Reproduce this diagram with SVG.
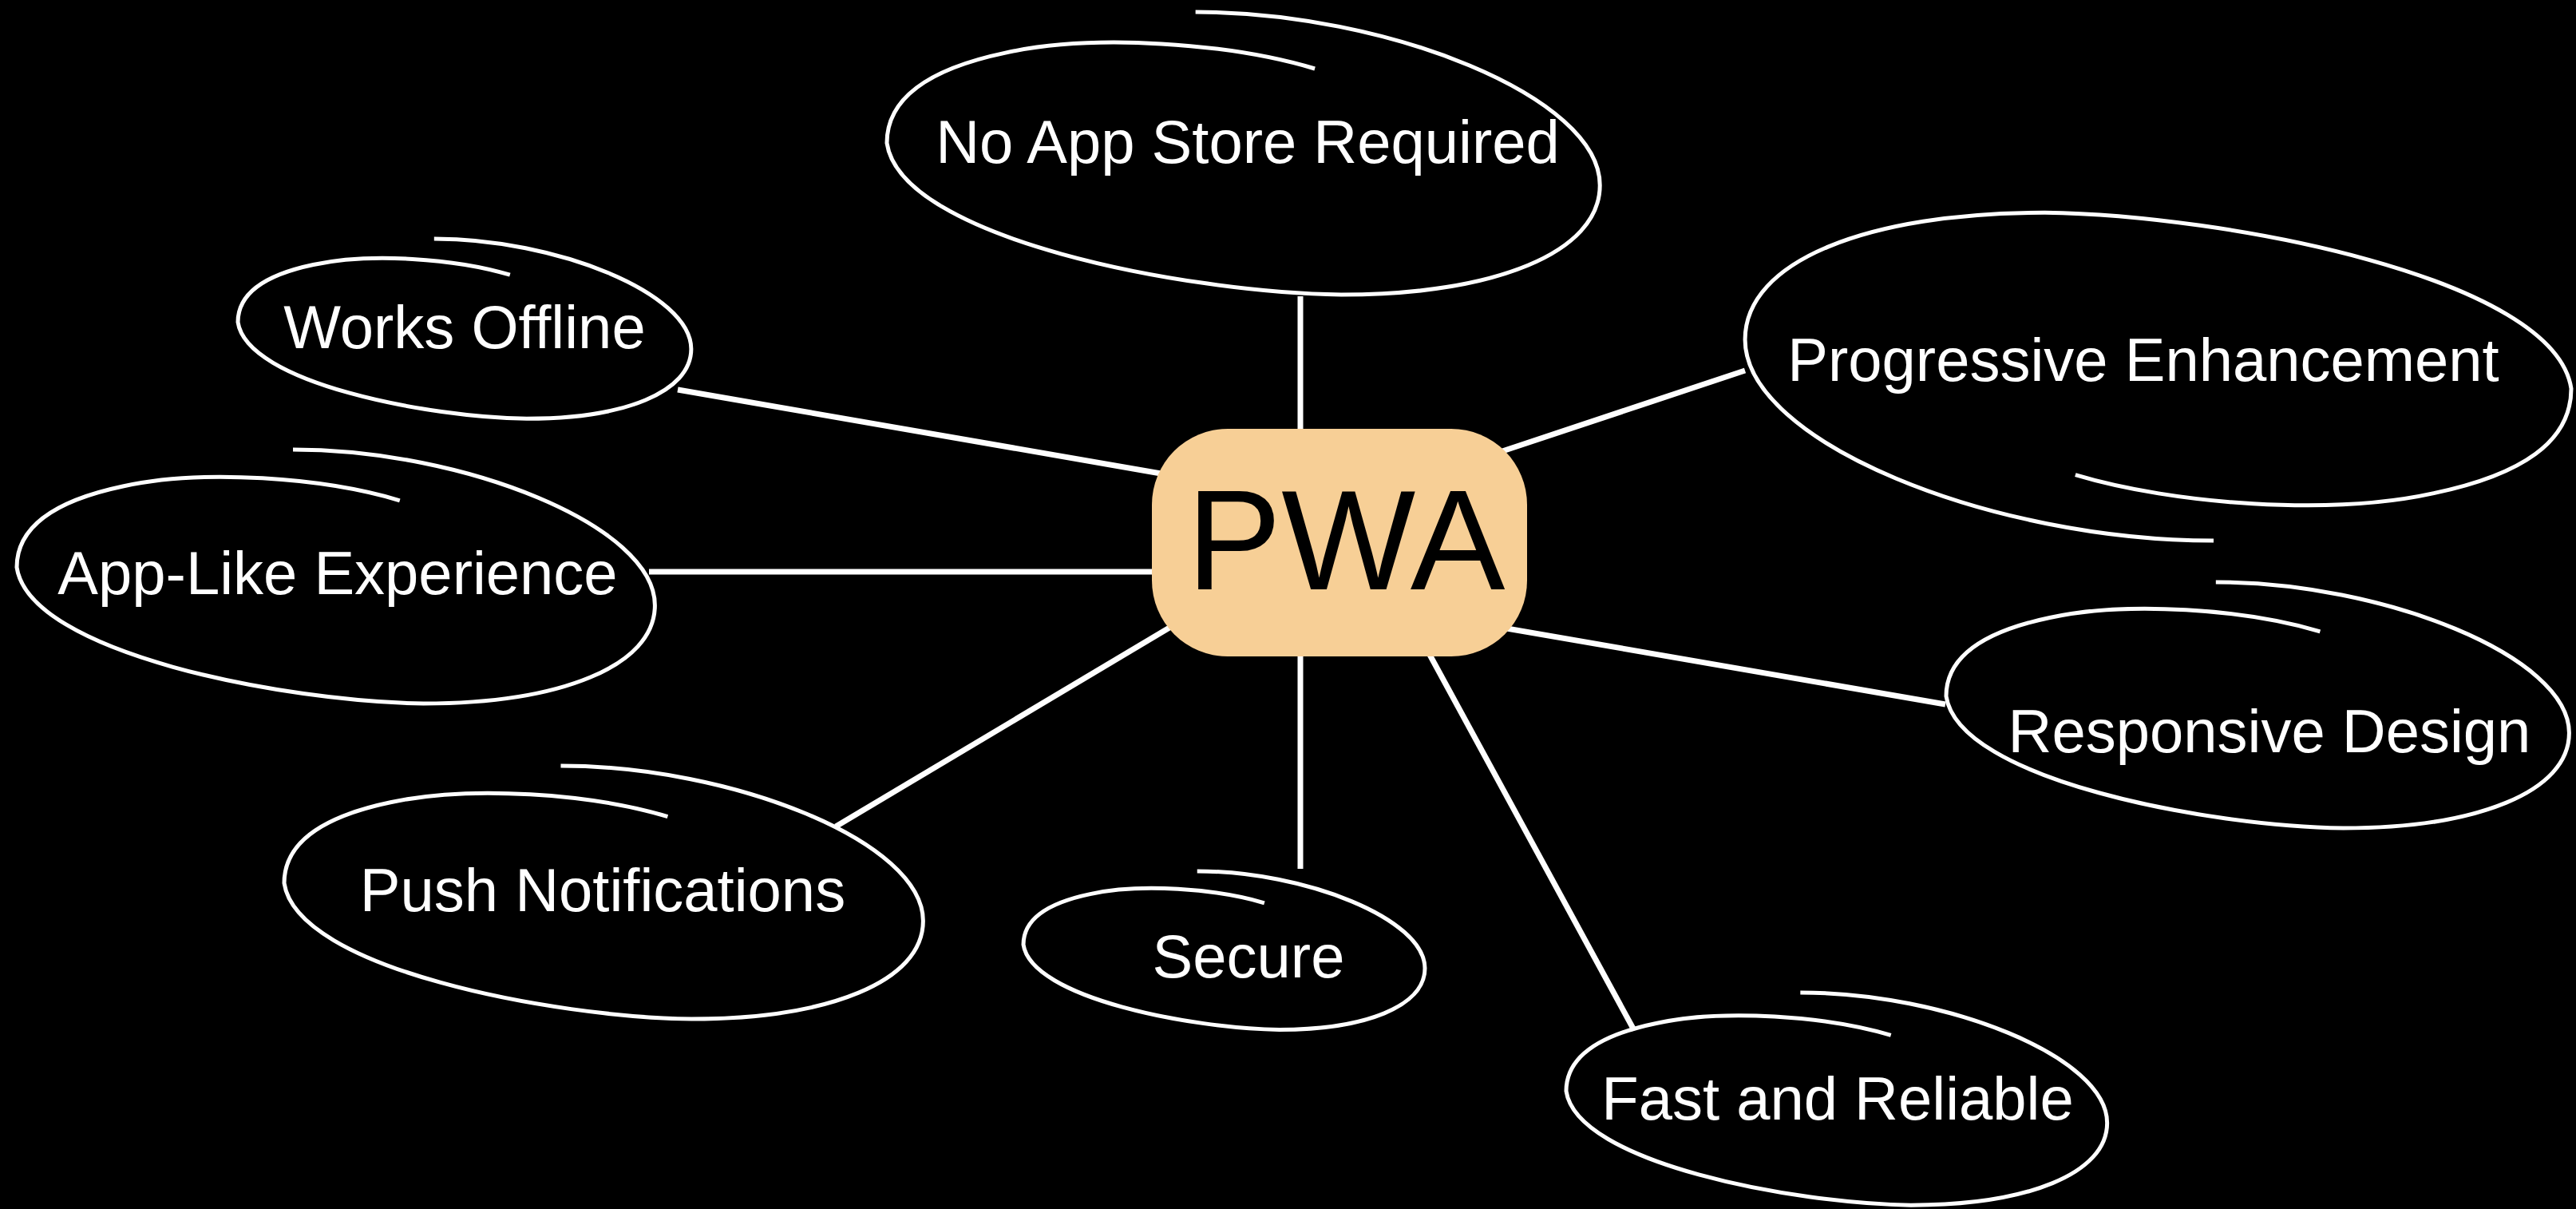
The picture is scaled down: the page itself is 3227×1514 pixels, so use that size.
<svg xmlns="http://www.w3.org/2000/svg" xmlns:xlink="http://www.w3.org/1999/xlink" width="3227" height="1514" viewBox="0 0 3227 1514">
  <style>
    .loop { fill: none; stroke: #ffffff; stroke-width: 5; stroke-linecap: butt; }
    .conn { stroke: #ffffff; stroke-width: 7; fill: none; }
    .label { font-family: "Liberation Sans", Arial, sans-serif; font-size: 76px; fill: #ffffff; text-anchor: middle; }
    .center-box { fill: #f7cf96; }
    .center-text { font-family: "Liberation Sans", Arial, sans-serif; font-size: 178px; fill: #000000; text-anchor: middle; }
  </style>
  <defs>
    <path id="scribble" class="loop" vector-effect="non-scaling-stroke"
      d="M 432,0 C 700,0 998,300 998,611 C 998,850 850,997 636,997 C 420,990 20,800 0,462 C 0,300 60,200 166,144 C 290,75 480,110 599,200"/>
  </defs>
  <rect x="0" y="0" width="3227" height="1514" fill="#000000"/>

  <g id="connectors">
    <line class="conn" x1="1629" y1="371" x2="1629" y2="540"/>
    <line class="conn" x1="849" y1="488" x2="1460" y2="594"/>
    <line class="conn" x1="813" y1="716" x2="1450" y2="716"/>
    <line class="conn" x1="1876" y1="567" x2="2186" y2="464"/>
    <line class="conn" x1="1876" y1="785" x2="2437" y2="882"/>
    <line class="conn" x1="1047" y1="1035" x2="1470" y2="783"/>
    <line class="conn" x1="1629" y1="818" x2="1629" y2="1088"/>
    <line class="conn" x1="1790" y1="818" x2="2047" y2="1290"/>
  </g>

  <g id="node-pwa">
    <rect class="center-box" x="1443" y="537" width="470" height="285" rx="95" ry="95"/>
    <text class="center-text" x="1686" y="738">PWA</text>
  </g>

  <g id="node-no-app-store">
    <use xlink:href="#scribble" href="#scribble" transform="translate(1111,15) scale(0.895,0.355)"/>
    <text class="label" x="1563" y="204">No App Store Required</text>
  </g>

  <g id="node-works-offline">
    <use xlink:href="#scribble" href="#scribble" transform="translate(298,299) scale(0.569,0.226)"/>
    <text class="label" x="582" y="436">Works Offline</text>
  </g>

  <g id="node-app-like">
    <use xlink:href="#scribble" href="#scribble" transform="translate(21,563) scale(0.801,0.319)"/>
    <text class="label" x="423" y="744">App-Like Experience</text>
  </g>

  <g id="node-progressive">
    <use xlink:href="#scribble" href="#scribble" transform="translate(3221,677) scale(-1.037,-0.412)"/>
    <text class="label" x="2685" y="477">Progressive Enhancement</text>
  </g>

  <g id="node-responsive">
    <use xlink:href="#scribble" href="#scribble" transform="translate(2438,729) scale(0.782,0.309)"/>
    <text class="label" x="2843" y="942">Responsive Design</text>
  </g>

  <g id="node-push">
    <use xlink:href="#scribble" href="#scribble" transform="translate(356,959) scale(0.802,0.318)"/>
    <text class="label" x="755" y="1141">Push Notifications</text>
  </g>

  <g id="node-secure">
    <use xlink:href="#scribble" href="#scribble" transform="translate(1282,1091) scale(0.504,0.199)"/>
    <text class="label" x="1564" y="1224">Secure</text>
  </g>

  <g id="node-fast">
    <use xlink:href="#scribble" href="#scribble" transform="translate(1962,1243) scale(0.679,0.267)"/>
    <text class="label" x="2302" y="1402">Fast and Reliable</text>
  </g>
</svg>
